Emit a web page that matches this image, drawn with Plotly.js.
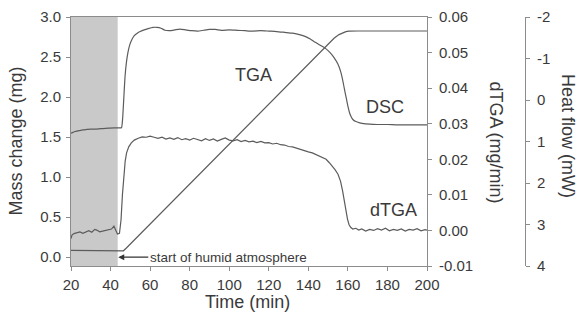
<!DOCTYPE html>
<html>
<head>
<meta charset="utf-8">
<script src="https://cdn.plot.ly/plotly-3.0.1.min.js"></script>
<style>html,body{margin:0;padding:0;background:#fff;}#chart{width:583px;height:325px;}</style>
</head>
<body>
<div id="chart"></div>
<script>
// ---- Data ----
// Humid atmosphere begins at this time (min); shaded region before it
const shadeStart = 20;
const shadeEnd = 43.6;

// TGA (mass change, mg) vs time (min)
const tgaTime = [20, 25, 30, 35, 40, 43, 45.5, 46.5, 48, 50, 55, 60, 70, 80, 90, 100, 110, 120, 130, 140, 145, 150, 153, 155.5, 157.5, 159, 160.5, 162, 165, 170, 180, 190, 200];
const tgaMass = [0.085, 0.083, 0.082, 0.081, 0.080, 0.079, 0.078, 0.080, 0.115, 0.165, 0.29, 0.415, 0.665, 0.915, 1.165, 1.415, 1.665, 1.915, 2.165, 2.415, 2.54, 2.665, 2.735, 2.78, 2.805, 2.817, 2.823, 2.825, 2.825, 2.825, 2.825, 2.825, 2.825];

// DSC (heat flow, mW) vs time (min)
const dscTime = [20, 21, 22, 24, 26, 28, 30, 33, 36, 39, 42, 44, 45.5, 46.1, 46.7, 47.3, 48.0, 48.8, 49.7, 50.8, 52, 53.5, 55, 57, 59, 61.5, 63.5, 65.5, 67.5, 70, 72.5, 75, 78, 81, 84, 87, 90, 93, 96, 100, 104, 108, 112, 116, 120, 124, 128, 132, 135, 138, 141, 143.5, 146, 148.5, 151, 153, 155, 156.5, 157.5, 158.5, 159.3, 160, 160.8, 161.6, 162.5, 164, 166, 168, 171, 175, 180, 185, 190, 195, 200];
const dscHeat = [0.80, 0.78, 0.76, 0.74, 0.72, 0.71, 0.70, 0.70, 0.69, 0.68, 0.67, 0.67, 0.67, 0.45, -0.05, -0.55, -0.90, -1.15, -1.33, -1.46, -1.55, -1.61, -1.65, -1.69, -1.72, -1.75, -1.75, -1.73, -1.68, -1.67, -1.69, -1.71, -1.69, -1.67, -1.66, -1.68, -1.70, -1.70, -1.68, -1.69, -1.68, -1.67, -1.66, -1.67, -1.66, -1.65, -1.63, -1.61, -1.58, -1.54, -1.47, -1.39, -1.32, -1.25, -1.14, -1.02, -0.86, -0.66, -0.45, -0.20, -0.02, 0.15, 0.30, 0.40, 0.47, 0.52, 0.55, 0.57, 0.58, 0.59, 0.59, 0.60, 0.60, 0.60, 0.60];

// dTGA (mg/min) vs time (min)
const dtgaTime = [20, 20.5, 21.5, 23, 24.5, 26, 27.5, 29, 30.5, 32, 33, 34.5, 36, 37.5, 39, 40.5, 41.7, 42.5, 43.5, 44.5, 45.3, 46.0, 46.7, 47.4, 48.1, 49.2, 50.5, 52, 54, 56, 58, 60, 62, 64, 66, 68, 70, 72, 74, 76, 78, 80, 82, 84, 86, 88, 90, 92, 94, 96, 98, 100, 102, 104, 106, 108, 110, 112, 114, 116, 118, 120, 122, 124, 126, 128, 130, 132, 134, 136, 138, 140, 142, 144, 146, 147.5, 149, 150.5, 152, 153.5, 155, 156.3, 157.3, 158.2, 159, 159.8, 160.6, 161.5, 162.5, 164, 165.5, 167, 169, 171, 173, 175, 177, 179, 181, 183, 185, 187, 189, 191, 193, 195, 197, 199, 200];
const dtgaRate = [-0.0023, -0.0013, -0.0009, -0.0007, -0.0004, -0.0008, -0.0005, -0.0001, -0.0005, 0.0003, 0.0001, -0.0004, -0.0002, 0.0000, 0.0002, 0.0004, 0.0012, 0.0000, -0.0010, -0.0008, 0.0030, 0.0100, 0.0160, 0.0195, 0.0218, 0.0235, 0.0246, 0.0254, 0.0259, 0.0263, 0.0262, 0.0265, 0.0262, 0.0259, 0.0262, 0.0257, 0.0260, 0.0256, 0.0261, 0.0255, 0.0258, 0.0254, 0.0259, 0.0255, 0.0252, 0.0258, 0.0253, 0.0257, 0.0251, 0.0256, 0.0260, 0.0254, 0.0252, 0.0255, 0.0250, 0.0253, 0.0249, 0.0251, 0.0247, 0.0250, 0.0246, 0.0247, 0.0243, 0.0245, 0.0241, 0.0240, 0.0236, 0.0235, 0.0231, 0.0229, 0.0225, 0.0221, 0.0218, 0.0213, 0.0209, 0.0204, 0.0200, 0.0191, 0.0182, 0.0171, 0.0158, 0.0138, 0.0112, 0.0082, 0.0055, 0.0032, 0.0016, 0.0008, 0.0004, 0.0006, 0.0001, 0.0004, -0.0002, 0.0003, 0.0000, 0.0005, 0.0001, 0.0006, -0.0001, 0.0003, 0.0000, 0.0004, -0.0002, 0.0003, 0.0001, 0.0005, -0.0001, 0.0002, 0.0001];

// Axis ticks
const timeTicks = [20, 40, 60, 80, 100, 120, 140, 160, 180, 200];
const massTicks = [0.0, 0.5, 1.0, 1.5, 2.0, 2.5, 3.0];
const massTickText = ['0.0', '0.5', '1.0', '1.5', '2.0', '2.5', '3.0'];
const dtgaTicks = [-0.01, 0.00, 0.01, 0.02, 0.03, 0.04, 0.05, 0.06];
const dtgaTickText = ['-0.01', '0.00', '0.01', '0.02', '0.03', '0.04', '0.05', '0.06'];
const heatTicks = [-2, -1, 0, 1, 2, 3, 4];
const heatTickText = ['-2', '-1', '0', '1', '2', '3', '4'];

// ---- Styling ----
const FONT = 'Liberation Sans, Arial, sans-serif';
const TXT = '#3a3a3a';
const LINE = '#5c5c5c';
const AX = '#8c8c8c';

const traces = [
  {x: tgaTime, y: tgaMass, type: 'scatter', mode: 'lines', name: 'TGA',
   line: {color: LINE, width: 1.2}, xaxis: 'x', yaxis: 'y', hoverinfo: 'skip'},
  {x: dtgaTime, y: dtgaRate, type: 'scatter', mode: 'lines', name: 'dTGA',
   line: {color: LINE, width: 1.2}, xaxis: 'x', yaxis: 'y2', hoverinfo: 'skip'},
  {x: dscTime, y: dscHeat, type: 'scatter', mode: 'lines', name: 'DSC',
   line: {color: LINE, width: 1.2, shape: 'spline', smoothing: 0.5}, xaxis: 'x', yaxis: 'y3', hoverinfo: 'skip'}
];

const tickFont = {family: FONT, size: 15, color: TXT};
const titleFont = {family: FONT, size: 18, color: TXT};

const layout = {
  width: 583, height: 325,
  margin: {l: 71, r: 58, t: 17, b: 59, pad: 0},
  paper_bgcolor: '#fff', plot_bgcolor: '#fff',
  showlegend: false,
  font: {family: FONT, color: TXT},
  xaxis: {
    domain: [0, 356 / 454], range: [20, 200], tickmode: 'array', tickvals: timeTicks,
    showgrid: false, zeroline: false, showline: true, linecolor: AX, linewidth: 1, mirror: true,
    ticks: 'outside', ticklen: 4, tickcolor: AX, tickfont: tickFont, ticklabelstandoff: 1
  },
  yaxis: {
    range: [-0.11, 3.0], tickmode: 'array', tickvals: massTicks, ticktext: massTickText,
    showgrid: false, zeroline: false, showline: true, linecolor: AX, linewidth: 1,
    ticks: 'outside', ticklen: 4, tickcolor: AX, tickfont: tickFont, ticklabelstandoff: 2
  },
  yaxis2: {
    overlaying: 'y', side: 'right', anchor: 'x', range: [-0.01, 0.06],
    tickmode: 'array', tickvals: dtgaTicks, ticktext: dtgaTickText,
    showgrid: false, zeroline: false, showline: true, linecolor: AX, linewidth: 1,
    ticks: 'outside', ticklen: 4, tickcolor: AX, tickfont: tickFont, ticklabelstandoff: 4
  },
  yaxis3: {
    overlaying: 'y', side: 'right', anchor: 'free', position: 1, range: [4, -2],
    tickmode: 'array', tickvals: heatTicks, ticktext: heatTickText,
    showgrid: false, zeroline: false, showline: true, linecolor: AX, linewidth: 1,
    ticks: 'outside', ticklen: 4, tickcolor: AX, tickfont: tickFont, ticklabelstandoff: 4
  },
  shapes: [
    {type: 'rect', xref: 'x', yref: 'paper', x0: shadeStart, x1: shadeEnd, y0: 0, y1: 1,
     fillcolor: '#c9c9c9', line: {width: 0}, layer: 'below'}
  ],
  annotations: [
    {text: 'Mass change (mg)', xref: 'paper', yref: 'paper', x: (15 - 71) / 454, y: 0.5,
     textangle: -90, showarrow: false, font: titleFont, xanchor: 'center', yanchor: 'middle'},
    {text: 'Time (min)', xref: 'paper', yref: 'paper', x: (247 - 71) / 454, y: (266 - 302) / 249,
     showarrow: false, font: titleFont, xanchor: 'center', yanchor: 'middle'},
    {text: 'dTGA (mg/min)', xref: 'paper', yref: 'paper', x: (496 - 71) / 454, y: (266 - 142.5) / 249,
     textangle: 90, showarrow: false, font: titleFont, xanchor: 'center', yanchor: 'middle'},
    {text: 'Heat flow (mW)', xref: 'paper', yref: 'paper', x: (568 - 71) / 454, y: (266 - 136) / 249,
     textangle: 90, showarrow: false, font: titleFont, xanchor: 'center', yanchor: 'middle'},
    {text: 'TGA', xref: 'x', yref: 'y', x: 112.3, y: 2.27, showarrow: false,
     font: {family: FONT, size: 18, color: TXT}},
    {text: 'DSC', xref: 'x', yref: 'y', x: 178.7, y: 1.87, showarrow: false,
     font: {family: FONT, size: 18, color: TXT}},
    {text: 'dTGA', xref: 'x', yref: 'y', x: 183.3, y: 0.59, showarrow: false,
     font: {family: FONT, size: 18, color: TXT}},
    {text: 'start of humid atmosphere', xref: 'x', yref: 'y', x: shadeEnd + 0.3, y: 0.0,
     showarrow: true, axref: 'pixel', ayref: 'pixel', ax: 30, ay: 0, xanchor: 'left',
     arrowhead: 2, arrowsize: 1, arrowwidth: 1.2, arrowcolor: '#333', standoff: 0,
     font: {family: FONT, size: 13.5, color: TXT}}
  ]
};

Plotly.newPlot('chart', traces, layout, {displayModeBar: false, staticPlot: true});
</script>
</body>
</html>
